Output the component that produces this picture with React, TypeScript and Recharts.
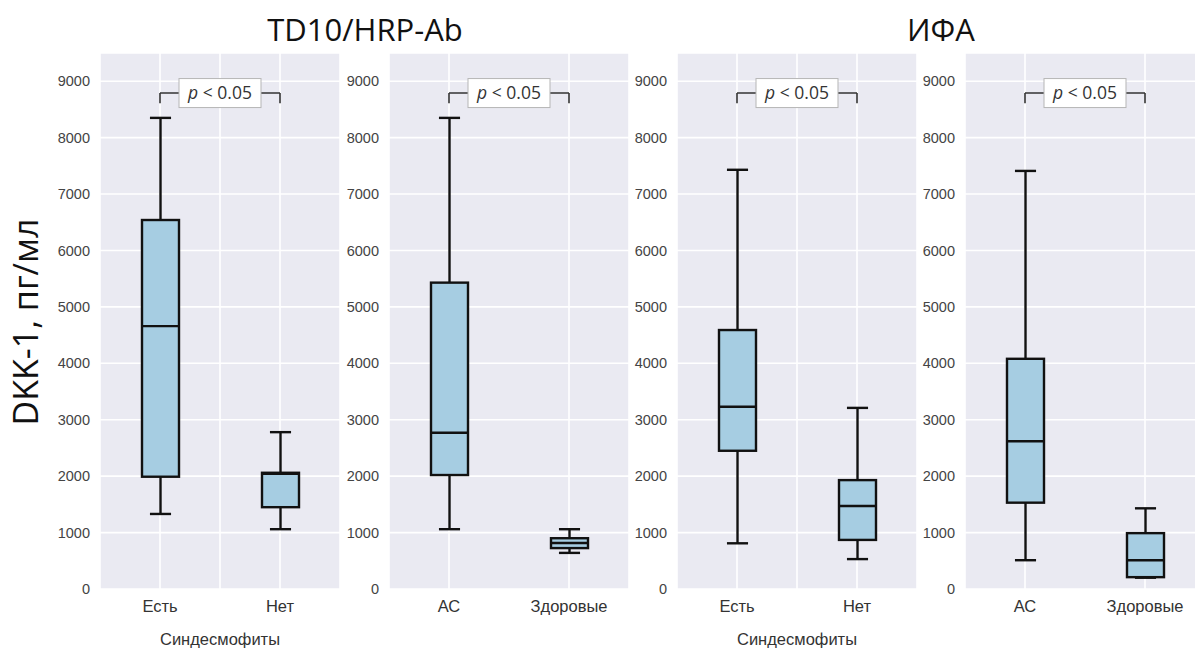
import React from "react";
import { ComposedChart, Bar, XAxis, YAxis, CartesianGrid, ReferenceLine, ReferenceDot } from "recharts";

// статистика: [min, Q1, медиана, Q3, max], пг/мл
const synCategories = ["Есть", "Нет"];
const groupCategories = ["АС", "Здоровые"];

const td10SynYes = [1330, 1990, 4660, 6540, 8350];
const td10SynNo = [1060, 1450, 2040, 2060, 2780];
const td10As = [1060, 2020, 2770, 5430, 8350];
const td10Healthy = [640, 725, 815, 900, 1060];

const elisaSynYes = [810, 2450, 3230, 4590, 7430];
const elisaSynNo = [530, 870, 1470, 1930, 3210];
const elisaAs = [510, 1530, 2620, 4080, 7410];
const elisaHealthy = [200, 210, 510, 990, 1430];

const yTicks = [0, 1000, 2000, 3000, 4000, 5000, 6000, 7000, 8000, 9000];
const pLabel = "< 0.05";
const xTitle = "Синдесмофиты";

const BOX_FILL = "#a6cde2";
const EDGE = "#111";

type Stat = { x: number; name: string; stats: number[]; range: number[] };

function makeRows(names: string[], a: number[], b: number[]): Stat[] {
  return [
    { x: 1, name: names[0], stats: a, range: [a[0], a[4]] },
    { x: 3, name: names[1], stats: b, range: [b[0], b[4]] },
  ];
}

function BoxShape(props: any) {
  const { x, y, width, height, payload } = props;
  const [lo, q1, med, q3, hi] = payload.stats;
  const top = Math.min(y, y + height);
  const h = Math.abs(height);
  const py = (v: number) => top + (h * (hi - v)) / (hi - lo);
  const cx = x + width / 2;
  const cap = width * 0.57;
  const sw = 2.4;
  return (
    <g>
      <line x1={cx} x2={cx} y1={py(hi)} y2={py(q3)} stroke={EDGE} strokeWidth={sw} />
      <line x1={cx} x2={cx} y1={py(q1)} y2={py(lo)} stroke={EDGE} strokeWidth={sw} />
      <line x1={cx - cap / 2} x2={cx + cap / 2} y1={py(hi)} y2={py(hi)} stroke={EDGE} strokeWidth={sw} />
      <line x1={cx - cap / 2} x2={cx + cap / 2} y1={py(lo)} y2={py(lo)} stroke={EDGE} strokeWidth={sw} />
      <rect x={x} y={py(q3)} width={width} height={Math.max(py(q1) - py(q3), 0.5)} fill={BOX_FILL} stroke={EDGE} strokeWidth={sw} />
      <line x1={x} x2={x + width} y1={py(med)} y2={py(med)} stroke={EDGE} strokeWidth={sw} />
    </g>
  );
}

function PBox(props: any) {
  const { cx, cy } = props;
  return (
    <g>
      <rect x={cx - 41} y={cy - 14.5} width={82} height={29} fill="#ffffff" stroke="#b5b5b5" strokeWidth={1} />
      <text x={cx} y={cy + 6} textAnchor="middle" fontSize={17.5} fill="#333" fontFamily="'Open Sans', sans-serif">
        <tspan fontStyle="italic">p</tspan> {pLabel}
      </text>
    </g>
  );
}

type PanelProps = {
  left: number;
  rows: Stat[];
  midLine: boolean;
  title?: string;
};

function Panel({ left, rows, midLine, title }: PanelProps) {
  const names: Record<number, string> = { 1: rows[0].name, 3: rows[1].name };
  const font = "'Liberation Sans', Arial, sans-serif";
  const tickFont = { fontSize: 14.5, fill: "#444", fontFamily: font };
  return (
    <div style={{ position: "absolute", left: left - 60, top: 0 }}>
      <ComposedChart width={300} height={650} data={rows} margin={{ top: 53, right: 0, bottom: 0, left: 0 }}>
        <CartesianGrid fill="#eaeaf2" stroke="#ffffff" strokeWidth={1.6} />
        <XAxis
          dataKey="x"
          type="number"
          domain={[0, 4]}
          ticks={midLine ? [1, 2, 3] : [1, 3]}
          interval={0}
          tickFormatter={(v: number) => names[v] ?? ""}
          axisLine={false}
          tickLine={false}
          tickMargin={5}
          height={61}
          tick={{ fontSize: 16.5, fill: "#333", fontFamily: font }}
          label={title ? { value: title, position: "insideBottom", offset: 5, fontSize: 16.5, fill: "#333", fontFamily: font } : undefined}
        />
        <YAxis
          type="number"
          domain={[0, 9500]}
          ticks={yTicks}
          interval={0}
          width={60}
          axisLine={false}
          tickLine={false}
          tickMargin={4}
          tick={tickFont}
        />
        <ReferenceLine segment={[{ x: 1, y: 8610 }, { x: 1, y: 8790 }]} stroke="#333" strokeWidth={1.6} />
        <ReferenceLine segment={[{ x: 1, y: 8790 }, { x: 3, y: 8790 }]} stroke="#333" strokeWidth={1.6} />
        <ReferenceLine segment={[{ x: 3, y: 8610 }, { x: 3, y: 8790 }]} stroke="#333" strokeWidth={1.6} />
        <ReferenceDot x={2} y={8790} r={1} shape={PBox} />
        <Bar dataKey="range" barSize={37} shape={BoxShape} isAnimationActive={false} />
      </ComposedChart>
    </div>
  );
}

export default function App() {
  const heading = { position: "absolute" as const, top: 8, fontSize: 31, color: "#111", fontFamily: "'Open Sans', sans-serif", transform: "translateX(-50%)", whiteSpace: "nowrap" as const };
  return (
    <div style={{ position: "absolute", left: 0, top: 0, width: 1195, height: 650, overflow: "hidden", background: "#fff" }}>
      <Panel left={100} rows={makeRows(synCategories, td10SynYes, td10SynNo)} midLine title={xTitle} />
      <Panel left={389} rows={makeRows(groupCategories, td10As, td10Healthy)} midLine={false} />
      <Panel left={677} rows={makeRows(synCategories, elisaSynYes, elisaSynNo)} midLine title={xTitle} />
      <Panel left={965} rows={makeRows(groupCategories, elisaAs, elisaHealthy)} midLine={false} />
      <div style={{ ...heading, left: 365 }}>TD10/HRP-Ab</div>
      <div style={{ ...heading, left: 941 }}>ИФА</div>
      <div
        style={{
          position: "absolute",
          left: 25,
          top: 322,
          fontSize: 34,
          color: "#111",
          fontFamily: "'Open Sans', sans-serif",
          whiteSpace: "nowrap",
          transform: "translate(-50%, -50%) rotate(-90deg)",
        }}
      >
        DKK-1, пг/мл
      </div>
    </div>
  );
}
